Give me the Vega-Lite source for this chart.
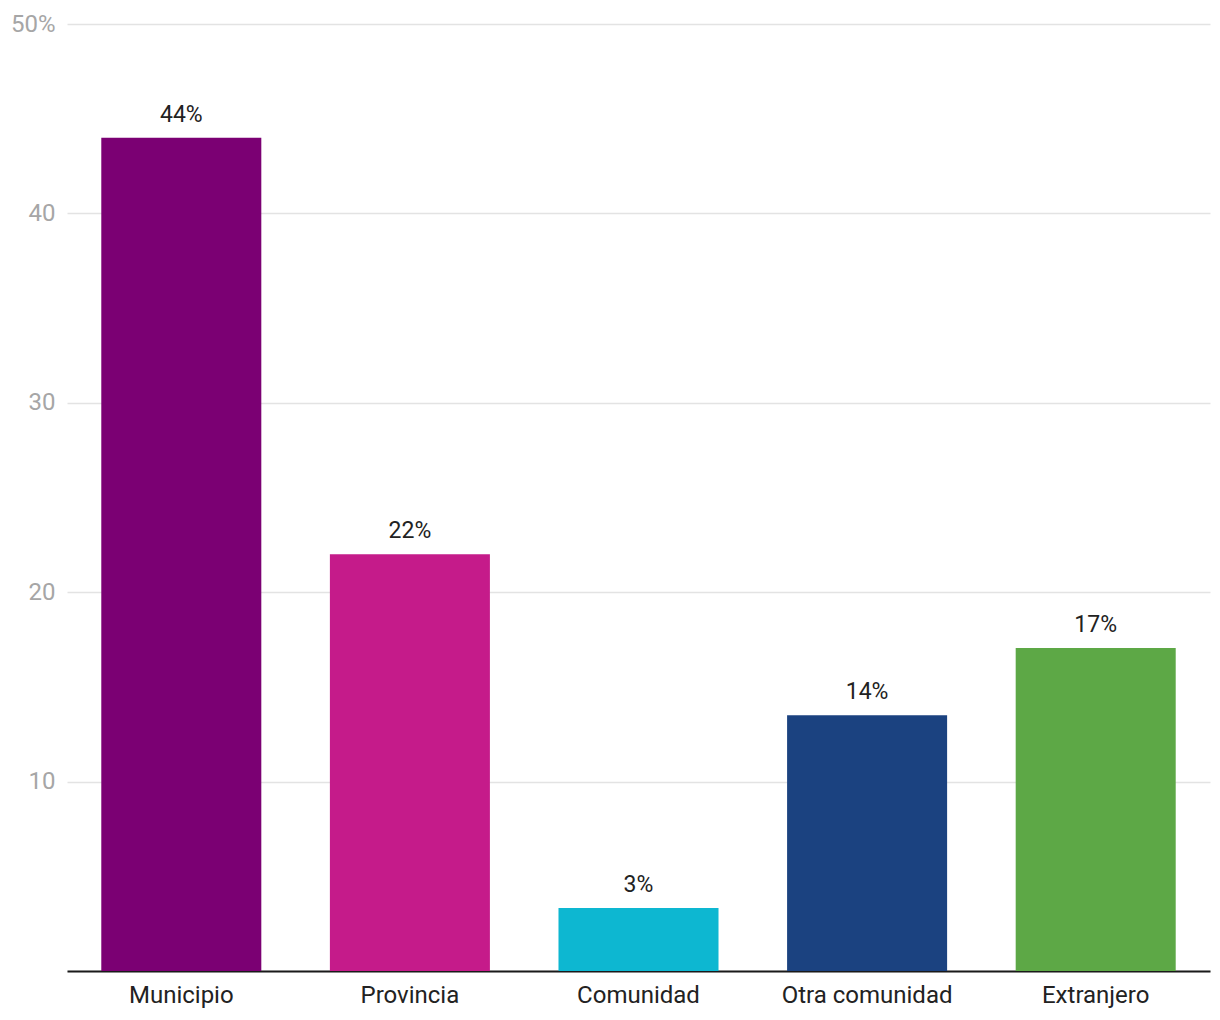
{
  "$schema": "https://vega.github.io/schema/vega-lite/v6.json",
  "autosize": "none",
  "width": 1143,
  "height": 947,
  "padding": {"left": 67, "top": 24, "right": 10, "bottom": 49},
  "background": "white",
  "config": {"view": {"stroke": null}, "font": "Roboto"},
  "data": {"values": [
    {"cat": "Municipio", "value": 44, "label": "44%"},
    {"cat": "Provincia", "value": 22, "label": "22%"},
    {"cat": "Comunidad", "value": 3.33, "label": "3%"},
    {"cat": "Otra comunidad", "value": 13.5, "label": "14%"},
    {"cat": "Extranjero", "value": 17.05, "label": "17%"}
  ]},
  "encoding": {
    "x": {"field": "cat", "type": "nominal", "sort": null,
      "scale": {"paddingInner": 0.3, "paddingOuter": 0.15},
      "axis": {"title": null, "labelAngle": 0, "labelFontSize": 24, "labelColor": "#222222", "labelPadding": 12, "ticks": false, "domainColor": "#1a1a1a", "domainWidth": 2, "labelFont": "Roboto"}},
    "y": {"field": "value", "type": "quantitative",
      "scale": {"domain": [0, 50], "nice": false},
      "axis": {"title": null, "values": [0, 10, 20, 30, 40, 50], "labelExpr": "datum.value == 50 ? '50%' : datum.value == 0 ? '' : datum.label", "labelFontSize": 24, "labelColor": "#a6a6a6", "labelPadding": 12, "ticks": false, "domain": false, "gridColor": "#e3e3e3", "gridWidth": 1.5, "labelFont": "Roboto"}}
  },
  "layer": [
    {"mark": {"type": "bar"},
     "encoding": {"color": {"field": "cat", "type": "nominal", "legend": null,
       "scale": {"domain": ["Municipio", "Provincia", "Comunidad", "Otra comunidad", "Extranjero"],
                 "range": ["#7B0073", "#C51B8A", "#0DB7D1", "#1B4280", "#5DA846"]}}}},
    {"mark": {"type": "text", "baseline": "bottom", "dy": -11, "fontSize": 23, "color": "#222222", "font": "Roboto"},
     "encoding": {"text": {"field": "label"}}}
  ]
}
